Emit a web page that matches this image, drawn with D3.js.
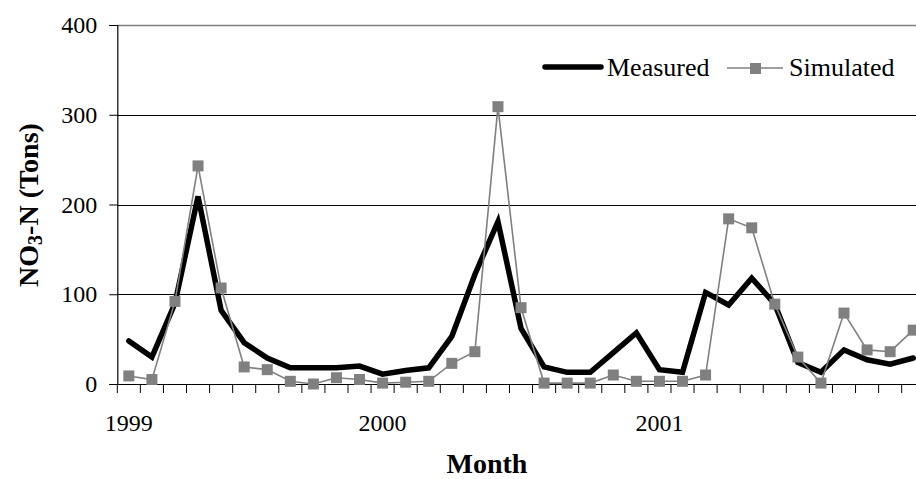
<!DOCTYPE html>
<html>
<head>
<meta charset="utf-8">
<script src="https://cdn.jsdelivr.net/npm/d3@7"></script>
<style>
body { margin: 0; background: #fff; }
svg text { font-family: "Liberation Serif", "Times New Roman", Times, serif !important; fill: #000; }
</style>
</head>
<body>
<svg width="916" height="479"></svg>
<script>
"use strict";

// category labels as they appear under the axis (blank months have no label)
var monthLabels = ["1999", "", "", "", "", "", "", "", "", "", "", "2000",
                   "", "", "", "", "", "", "", "", "", "", "", "2001",
                   "", "", "", "", "", "", "", "", "", "", ""];

var measured = [48, 30, 90, 209, 82, 46, 29, 18, 18, 18, 20, 11,
                15, 18, 53, 122, 181, 62, 19, 13, 13, 35, 57, 16,
                13, 102, 88, 118, 89, 24, 13, 38, 27, 22, 29];

var simulated = [9, 5, 92, 243, 107, 19, 16, 3, 0, 7, 5, 1,
                 2, 3, 23, 36, 309, 85, 1, 1, 1, 10, 3, 3,
                 3, 10, 184, 174, 89, 30, 1, 79, 38, 36, 60];

var yTicks = [0, 100, 200, 300, 400];

var svg = d3.select("svg");

var left = 117.3, step = 23.07;
var x = d3.scaleBand()
    .domain(d3.range(monthLabels.length))
    .range([left, left + step * monthLabels.length]);
var y = d3.scaleLinear().domain([0, 400]).range([384, 25]);

// gridlines
svg.append("g").selectAll("line").data(yTicks.filter(function(d){ return d > 0; }))
  .enter().append("line")
    .attr("x1", left).attr("x2", 916)
    .attr("y1", function(d){ return Math.round(y(d)) + 0.5; })
    .attr("y2", function(d){ return Math.round(y(d)) + 0.5; })
    .attr("stroke", function(d){ return d == 400 ? "#808080" : "#000"; })
    .attr("stroke-width", function(d){ return d == 400 ? 1.5 : 1; });

// y axis
var yAxis = svg.append("g")
    .attr("transform", "translate(" + (left) + ",0)")
    .call(d3.axisLeft(y).tickValues(yTicks).tickSize(8).tickPadding(12));
yAxis.select(".domain").attr("stroke", "#000").attr("stroke-width", 1.2);
yAxis.selectAll(".tick line").attr("stroke", "#000");
yAxis.selectAll("text")
    .attr("font-size", 24)
    .attr("fill", "#000");

// x axis: ticks between categories, labels centred on categories
var xg = svg.append("g");
xg.append("line")
    .attr("x1", left).attr("x2", 916)
    .attr("y1", 384.5).attr("y2", 384.5)
    .attr("stroke", "#000").attr("stroke-width", 1.2);
xg.selectAll(".tk").data(d3.range(monthLabels.length + 1))
  .enter().append("line")
    .attr("class", "tk")
    .attr("x1", function(i){ return left + i * x.step(); })
    .attr("x2", function(i){ return left + i * x.step(); })
    .attr("y1", 384).attr("y2", 393)
    .attr("stroke", "#000");
xg.selectAll("text").data(monthLabels)
  .enter().append("text")
    .attr("x", function(d, i){ return x(i) + x.bandwidth() / 2; })
    .attr("y", 431)
    .attr("text-anchor", "middle")
    .attr("font-size", 24)
    .text(function(d){ return d; });

// series
var cx = function(d, i){ return x(i) + x.bandwidth() / 2; };
var line = d3.line().x(cx).y(function(d){ return y(d); });

svg.append("path")
    .datum(measured)
    .attr("d", line)
    .attr("fill", "none")
    .attr("stroke", "#000")
    .attr("stroke-width", 5.5)
    .attr("stroke-linejoin", "miter")
    .attr("stroke-linecap", "round");

svg.append("path")
    .datum(simulated)
    .attr("d", line)
    .attr("fill", "none")
    .attr("stroke", "#808080")
    .attr("stroke-width", 1.6);

svg.append("g").selectAll("rect").data(simulated)
  .enter().append("rect")
    .attr("x", function(d, i){ return cx(d, i) - 5.5; })
    .attr("y", function(d){ return y(d) - 5.5; })
    .attr("width", 11).attr("height", 11)
    .attr("fill", "#808080");

// legend
var lg = svg.append("g");
lg.append("line")
    .attr("x1", 545).attr("x2", 601).attr("y1", 67).attr("y2", 67)
    .attr("stroke", "#000").attr("stroke-width", 5.5).attr("stroke-linecap", "round");
lg.append("text").attr("x", 607).attr("y", 76).attr("font-size", 26).text("Measured");
lg.append("line")
    .attr("x1", 727).attr("x2", 783).attr("y1", 68).attr("y2", 68)
    .attr("stroke", "#808080").attr("stroke-width", 1.6);
lg.append("rect")
    .attr("x", 750).attr("y", 63).attr("width", 11).attr("height", 11)
    .attr("fill", "#808080");
lg.append("text").attr("x", 789).attr("y", 76).attr("font-size", 26).text("Simulated");

// axis titles
svg.append("text")
    .attr("x", 487).attr("y", 473)
    .attr("text-anchor", "middle")
    .attr("font-size", 28).attr("font-weight", "bold")
    .text("Month");

var yt = svg.append("text")
    .attr("transform", "translate(38,205) rotate(-90)")
    .attr("text-anchor", "middle")
    .attr("font-size", 28).attr("font-weight", "bold");
yt.append("tspan").text("NO");
yt.append("tspan").attr("font-size", 20).attr("dy", 4).text("3");
yt.append("tspan").attr("dy", -4).text("-N (Tons)");
</script>
</body>
</html>
